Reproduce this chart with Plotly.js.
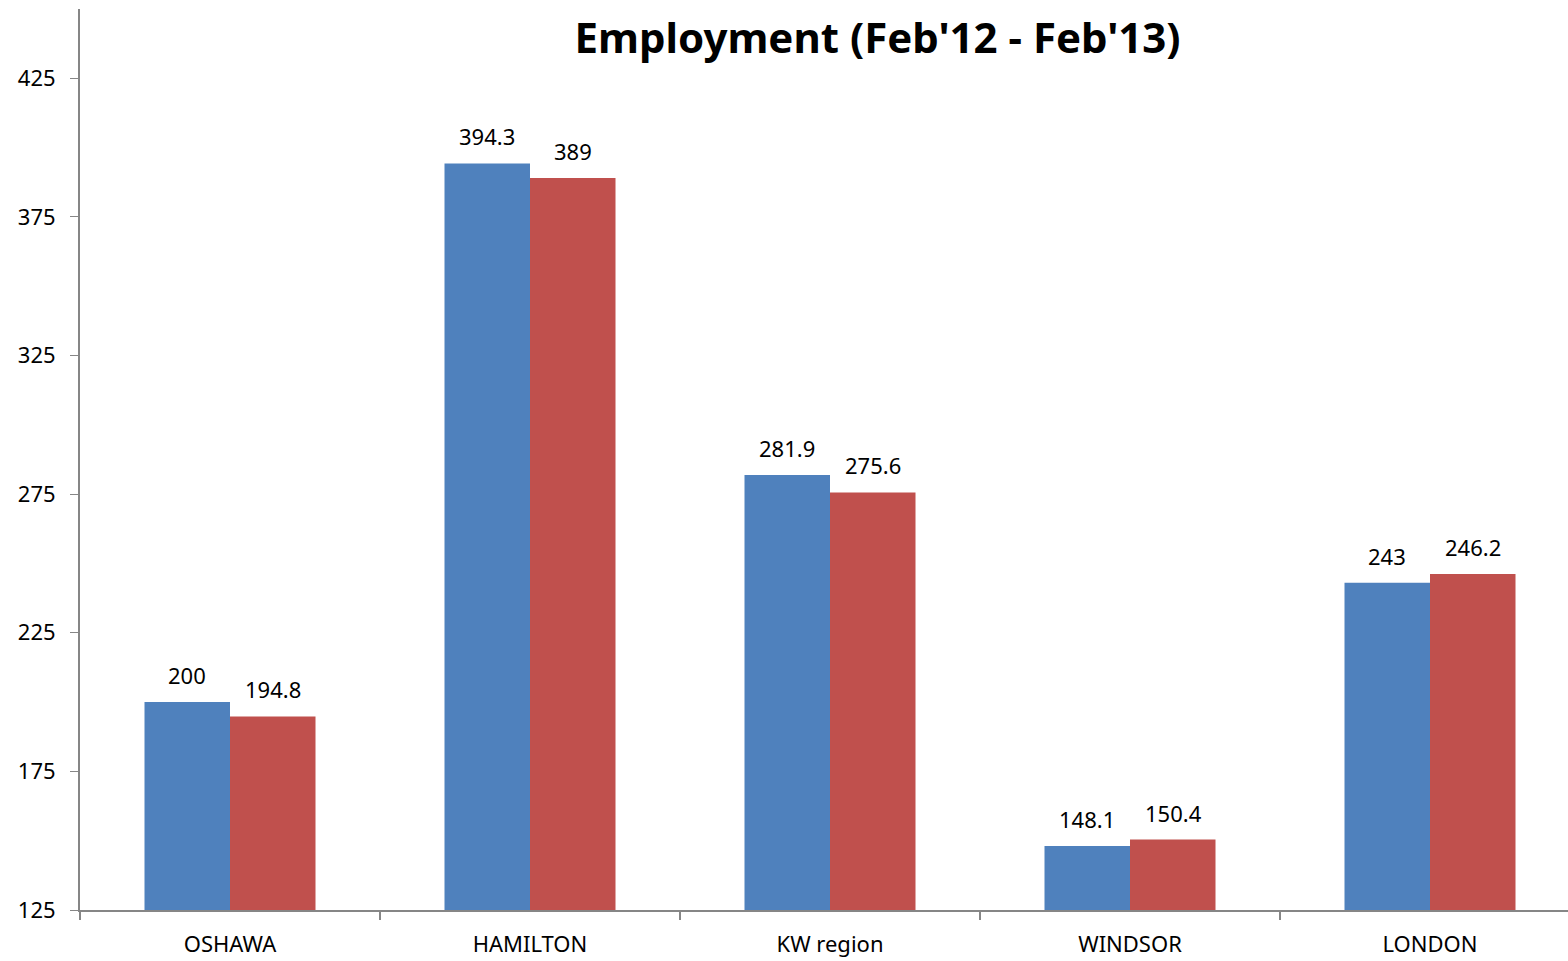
<!DOCTYPE html>
<html>
<head>
<meta charset="utf-8">
<script src="https://cdn.plot.ly/plotly-3.0.1.min.js"></script>
<style>html,body{margin:0;padding:0;background:#fff;}#chart{width:1568px;height:961px;}</style>
</head>
<body>
<div id="chart"></div>
<script>
const categories = ["OSHAWA", "HAMILTON", "KW region", "WINDSOR", "LONDON"];
const feb12 = [200, 394.3, 281.9, 148.1, 243];
const feb13 = [194.8, 389, 275.6, 150.4, 246.2];
const feb12Labels = ["200", "394.3", "281.9", "148.1", "243"];
const feb13Labels = ["194.8", "389", "275.6", "150.4", "246.2"];
const yTicks = [125, 175, 225, 275, 325, 375, 425];

const font = "Noto Sans, Open Sans, sans-serif";

const traces = [
  {type: "bar", name: "Feb'12", x: categories, y: feb12,
   marker: {color: "#4F81BD", line: {width: 0}}},
  {type: "bar", name: "Feb'13", x: categories, y: feb13,
   marker: {color: "#C0504D", line: {width: 0}}}
];

const labelAnns = [];
categories.forEach((c, i) => {
  labelAnns.push({x: c, y: feb12[i], xref: "x", yref: "y", text: feb12Labels[i], showarrow: false,
    xshift: -43, yshift: 27, yanchor: "middle", font: {family: font, size: 22, color: "#000"}});
  labelAnns.push({x: c, y: feb13[i], xref: "x", yref: "y", text: feb13Labels[i], showarrow: false,
    xshift: 43, yshift: 27, yanchor: "middle", font: {family: font, size: 22, color: "#000"}});
});

const layout = {
  width: 1568, height: 961,
  margin: {l: 80, r: 0, t: 9, b: 51},
  paper_bgcolor: "#fff", plot_bgcolor: "#fff",
  showlegend: false,
  barmode: "group", bargap: 0.43, bargroupgap: 0,
  font: {family: font, color: "#000"},
  title: {text: "<b>Employment (Feb'12 - Feb'13)</b>", font: {family: font, size: 42, color: "#000"},
          x: 0.536, xanchor: "center", y: 0.96, yanchor: "middle", xref: "paper"},
  xaxis: {type: "category", range: [-0.5, 4.46], tickson: "boundaries",
          ticks: "outside", ticklen: 8, tickcolor: "#868686", tickwidth: 2,
          showline: true, linecolor: "#868686", linewidth: 2,
          showgrid: false, zeroline: false, ticklabelstandoff: 14,
          tickfont: {family: font, size: 22, color: "#000"}},
  yaxis: {range: [125, 450], tickvals: yTicks, ticktext: yTicks.map(String),
          ticks: "outside", ticklen: 8, tickcolor: "#868686", tickwidth: 1,
          showline: true, linecolor: "#868686", linewidth: 2,
          showgrid: false, zeroline: false, ticklabelstandoff: 10,
          tickfont: {family: font, size: 22, color: "#000"}},
  annotations: labelAnns.concat([
    {text: "CMA Employment", xref: "paper", yref: "paper", x: -0.025, y: 1.035,
     xanchor: "left", yanchor: "bottom", showarrow: false,
     font: {family: font, size: 110, color: "#fbfbea"}}
  ])
};

Plotly.newPlot("chart", traces, layout, {displayModeBar: false, staticPlot: true});
</script>
</body>
</html>
